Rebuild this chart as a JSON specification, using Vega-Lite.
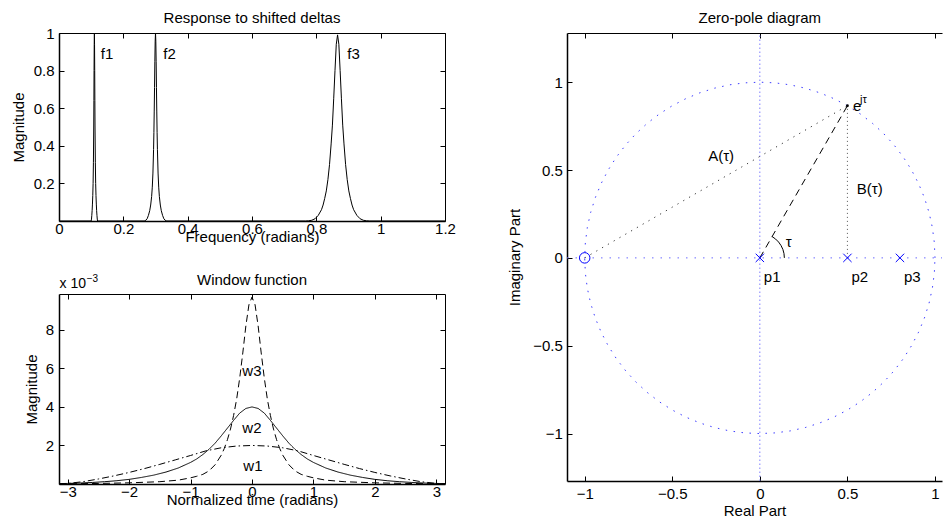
{
  "$schema": "https://vega.github.io/schema/vega-lite/v6.json",
  "padding": {"left": 11, "top": 10, "right": 0, "bottom": 0},
  "autosize": {"type": "pad"},
  "datasets": {
    "spectrum": [
      {"frequency": 0, "magnitude": 0},
      {"frequency": 0.1, "magnitude": 0}, {"frequency": 0.101, "magnitude": 0.01}, {"frequency": 0.102, "magnitude": 0.03},
      {"frequency": 0.103, "magnitude": 0.055}, {"frequency": 0.104, "magnitude": 0.09}, {"frequency": 0.105, "magnitude": 0.135},
      {"frequency": 0.106, "magnitude": 0.2}, {"frequency": 0.107, "magnitude": 0.31}, {"frequency": 0.108, "magnitude": 0.5},
      {"frequency": 0.1085, "magnitude": 0.64}, {"frequency": 0.109, "magnitude": 0.8}, {"frequency": 0.1095, "magnitude": 0.94},
      {"frequency": 0.11, "magnitude": 1}, {"frequency": 0.1105, "magnitude": 0.94}, {"frequency": 0.111, "magnitude": 0.8},
      {"frequency": 0.1115, "magnitude": 0.64}, {"frequency": 0.112, "magnitude": 0.5}, {"frequency": 0.113, "magnitude": 0.31},
      {"frequency": 0.114, "magnitude": 0.2}, {"frequency": 0.115, "magnitude": 0.135}, {"frequency": 0.116, "magnitude": 0.09},
      {"frequency": 0.117, "magnitude": 0.055}, {"frequency": 0.118, "magnitude": 0.03}, {"frequency": 0.119, "magnitude": 0.01},
      {"frequency": 0.12, "magnitude": 0},
      {"frequency": 0.265, "magnitude": 0}, {"frequency": 0.27, "magnitude": 0.004}, {"frequency": 0.274, "magnitude": 0.012},
      {"frequency": 0.278, "magnitude": 0.03}, {"frequency": 0.282, "magnitude": 0.055}, {"frequency": 0.285, "magnitude": 0.085},
      {"frequency": 0.288, "magnitude": 0.13}, {"frequency": 0.29, "magnitude": 0.18}, {"frequency": 0.292, "magnitude": 0.255},
      {"frequency": 0.294, "magnitude": 0.38}, {"frequency": 0.295, "magnitude": 0.47}, {"frequency": 0.296, "magnitude": 0.58},
      {"frequency": 0.297, "magnitude": 0.71}, {"frequency": 0.298, "magnitude": 0.847}, {"frequency": 0.299, "magnitude": 0.957},
      {"frequency": 0.3, "magnitude": 1}, {"frequency": 0.301, "magnitude": 0.957}, {"frequency": 0.302, "magnitude": 0.847},
      {"frequency": 0.303, "magnitude": 0.71}, {"frequency": 0.304, "magnitude": 0.58}, {"frequency": 0.305, "magnitude": 0.47},
      {"frequency": 0.306, "magnitude": 0.38}, {"frequency": 0.308, "magnitude": 0.255}, {"frequency": 0.31, "magnitude": 0.18},
      {"frequency": 0.312, "magnitude": 0.13}, {"frequency": 0.315, "magnitude": 0.085}, {"frequency": 0.318, "magnitude": 0.055},
      {"frequency": 0.322, "magnitude": 0.03}, {"frequency": 0.326, "magnitude": 0.012}, {"frequency": 0.33, "magnitude": 0.004},
      {"frequency": 0.335, "magnitude": 0},
      {"frequency": 0.766, "magnitude": 0}, {"frequency": 0.776, "magnitude": 0.001}, {"frequency": 0.786, "magnitude": 0.004},
      {"frequency": 0.796, "magnitude": 0.012}, {"frequency": 0.806, "magnitude": 0.03}, {"frequency": 0.816, "magnitude": 0.06},
      {"frequency": 0.821, "magnitude": 0.085}, {"frequency": 0.826, "magnitude": 0.12}, {"frequency": 0.831, "magnitude": 0.16},
      {"frequency": 0.836, "magnitude": 0.22}, {"frequency": 0.841, "magnitude": 0.3}, {"frequency": 0.846, "magnitude": 0.41},
      {"frequency": 0.85, "magnitude": 0.51}, {"frequency": 0.854, "magnitude": 0.65}, {"frequency": 0.858, "magnitude": 0.8},
      {"frequency": 0.862, "magnitude": 0.94}, {"frequency": 0.866, "magnitude": 0.99}, {"frequency": 0.87, "magnitude": 0.94},
      {"frequency": 0.874, "magnitude": 0.8}, {"frequency": 0.878, "magnitude": 0.65}, {"frequency": 0.882, "magnitude": 0.51},
      {"frequency": 0.886, "magnitude": 0.41}, {"frequency": 0.891, "magnitude": 0.3}, {"frequency": 0.896, "magnitude": 0.22},
      {"frequency": 0.901, "magnitude": 0.16}, {"frequency": 0.906, "magnitude": 0.12}, {"frequency": 0.911, "magnitude": 0.085},
      {"frequency": 0.916, "magnitude": 0.06}, {"frequency": 0.926, "magnitude": 0.03}, {"frequency": 0.936, "magnitude": 0.012},
      {"frequency": 0.946, "magnitude": 0.004}, {"frequency": 0.956, "magnitude": 0.001}, {"frequency": 0.966, "magnitude": 0},
      {"frequency": 1.2, "magnitude": 0}
    ],
    "spectrum_labels": [
      {"label": "f1", "frequency": 0.13, "magnitude": 0.889},
      {"label": "f2", "frequency": 0.324, "magnitude": 0.889},
      {"label": "f3", "frequency": 0.896, "magnitude": 0.889}
    ],
    "spectrum_title": [
      {"text": "Response to shifted deltas", "frequency": 0.6, "magnitude": 1.0532}
    ],
    "windows": [
      {"window": "w1", "t": -3.1416, "magnitude": 0}, {"window": "w1", "t": -3, "magnitude": 0.00003},
      {"window": "w1", "t": -2.75, "magnitude": 0.00012}, {"window": "w1", "t": -2.5, "magnitude": 0.00026},
      {"window": "w1", "t": -2.25, "magnitude": 0.00042}, {"window": "w1", "t": -2, "magnitude": 0.0006},
      {"window": "w1", "t": -1.75, "magnitude": 0.0008}, {"window": "w1", "t": -1.5, "magnitude": 0.00102},
      {"window": "w1", "t": -1.25, "magnitude": 0.00125}, {"window": "w1", "t": -1, "magnitude": 0.00148},
      {"window": "w1", "t": -0.75, "magnitude": 0.00172}, {"window": "w1", "t": -0.5, "magnitude": 0.00188},
      {"window": "w1", "t": -0.25, "magnitude": 0.00197}, {"window": "w1", "t": 0, "magnitude": 0.002},
      {"window": "w1", "t": 0.25, "magnitude": 0.00197}, {"window": "w1", "t": 0.5, "magnitude": 0.00188},
      {"window": "w1", "t": 0.75, "magnitude": 0.00172}, {"window": "w1", "t": 1, "magnitude": 0.00148},
      {"window": "w1", "t": 1.25, "magnitude": 0.00125}, {"window": "w1", "t": 1.5, "magnitude": 0.00102},
      {"window": "w1", "t": 1.75, "magnitude": 0.0008}, {"window": "w1", "t": 2, "magnitude": 0.0006},
      {"window": "w1", "t": 2.25, "magnitude": 0.00042}, {"window": "w1", "t": 2.5, "magnitude": 0.00026},
      {"window": "w1", "t": 2.75, "magnitude": 0.00012}, {"window": "w1", "t": 3, "magnitude": 0.00003},
      {"window": "w1", "t": 3.1416, "magnitude": 0},
      {"window": "w2", "t": -3.1416, "magnitude": 0.00002}, {"window": "w2", "t": -3, "magnitude": 0.00003},
      {"window": "w2", "t": -2.8, "magnitude": 0.00005}, {"window": "w2", "t": -2.6, "magnitude": 0.00008},
      {"window": "w2", "t": -2.4, "magnitude": 0.00012}, {"window": "w2", "t": -2.2, "magnitude": 0.00017},
      {"window": "w2", "t": -2, "magnitude": 0.00024}, {"window": "w2", "t": -1.8, "magnitude": 0.00034},
      {"window": "w2", "t": -1.6, "magnitude": 0.00046}, {"window": "w2", "t": -1.4, "magnitude": 0.00062},
      {"window": "w2", "t": -1.2, "magnitude": 0.00083}, {"window": "w2", "t": -1, "magnitude": 0.00112},
      {"window": "w2", "t": -0.9, "magnitude": 0.0013}, {"window": "w2", "t": -0.8, "magnitude": 0.00153},
      {"window": "w2", "t": -0.7, "magnitude": 0.0018}, {"window": "w2", "t": -0.6, "magnitude": 0.00212},
      {"window": "w2", "t": -0.5, "magnitude": 0.0025}, {"window": "w2", "t": -0.4, "magnitude": 0.0029},
      {"window": "w2", "t": -0.3, "magnitude": 0.0033}, {"window": "w2", "t": -0.2, "magnitude": 0.00368},
      {"window": "w2", "t": -0.1, "magnitude": 0.00392}, {"window": "w2", "t": 0, "magnitude": 0.004},
      {"window": "w2", "t": 0.1, "magnitude": 0.00392}, {"window": "w2", "t": 0.2, "magnitude": 0.00368},
      {"window": "w2", "t": 0.3, "magnitude": 0.0033}, {"window": "w2", "t": 0.4, "magnitude": 0.0029},
      {"window": "w2", "t": 0.5, "magnitude": 0.0025}, {"window": "w2", "t": 0.6, "magnitude": 0.00212},
      {"window": "w2", "t": 0.7, "magnitude": 0.0018}, {"window": "w2", "t": 0.8, "magnitude": 0.00153},
      {"window": "w2", "t": 0.9, "magnitude": 0.0013}, {"window": "w2", "t": 1, "magnitude": 0.00112},
      {"window": "w2", "t": 1.2, "magnitude": 0.00083}, {"window": "w2", "t": 1.4, "magnitude": 0.00062},
      {"window": "w2", "t": 1.6, "magnitude": 0.00046}, {"window": "w2", "t": 1.8, "magnitude": 0.00034},
      {"window": "w2", "t": 2, "magnitude": 0.00024}, {"window": "w2", "t": 2.2, "magnitude": 0.00017},
      {"window": "w2", "t": 2.4, "magnitude": 0.00012}, {"window": "w2", "t": 2.6, "magnitude": 0.00008},
      {"window": "w2", "t": 2.8, "magnitude": 0.00005}, {"window": "w2", "t": 3, "magnitude": 0.00003},
      {"window": "w2", "t": 3.1416, "magnitude": 0.00002},
      {"window": "w3", "t": -3.1416, "magnitude": 0.00001}, {"window": "w3", "t": -3, "magnitude": 0.00001},
      {"window": "w3", "t": -2.5, "magnitude": 0.00003}, {"window": "w3", "t": -2, "magnitude": 0.00006},
      {"window": "w3", "t": -1.5, "magnitude": 0.00012}, {"window": "w3", "t": -1.2, "magnitude": 0.0002},
      {"window": "w3", "t": -1, "magnitude": 0.00032}, {"window": "w3", "t": -0.9, "magnitude": 0.0004},
      {"window": "w3", "t": -0.8, "magnitude": 0.0005}, {"window": "w3", "t": -0.7, "magnitude": 0.00068},
      {"window": "w3", "t": -0.6, "magnitude": 0.001}, {"window": "w3", "t": -0.5, "magnitude": 0.0015},
      {"window": "w3", "t": -0.45, "magnitude": 0.00185}, {"window": "w3", "t": -0.4, "magnitude": 0.0023},
      {"window": "w3", "t": -0.35, "magnitude": 0.00285}, {"window": "w3", "t": -0.3, "magnitude": 0.00355},
      {"window": "w3", "t": -0.25, "magnitude": 0.0044}, {"window": "w3", "t": -0.2, "magnitude": 0.0055},
      {"window": "w3", "t": -0.15, "magnitude": 0.0068}, {"window": "w3", "t": -0.1, "magnitude": 0.0082},
      {"window": "w3", "t": -0.05, "magnitude": 0.0093}, {"window": "w3", "t": 0, "magnitude": 0.0097},
      {"window": "w3", "t": 0.05, "magnitude": 0.0093}, {"window": "w3", "t": 0.1, "magnitude": 0.0082},
      {"window": "w3", "t": 0.15, "magnitude": 0.0068}, {"window": "w3", "t": 0.2, "magnitude": 0.0055},
      {"window": "w3", "t": 0.25, "magnitude": 0.0044}, {"window": "w3", "t": 0.3, "magnitude": 0.00355},
      {"window": "w3", "t": 0.35, "magnitude": 0.00285}, {"window": "w3", "t": 0.4, "magnitude": 0.0023},
      {"window": "w3", "t": 0.45, "magnitude": 0.00185}, {"window": "w3", "t": 0.5, "magnitude": 0.0015},
      {"window": "w3", "t": 0.6, "magnitude": 0.001}, {"window": "w3", "t": 0.7, "magnitude": 0.00068},
      {"window": "w3", "t": 0.8, "magnitude": 0.0005}, {"window": "w3", "t": 0.9, "magnitude": 0.0004},
      {"window": "w3", "t": 1, "magnitude": 0.00032}, {"window": "w3", "t": 1.2, "magnitude": 0.0002},
      {"window": "w3", "t": 1.5, "magnitude": 0.00012}, {"window": "w3", "t": 2, "magnitude": 0.00006},
      {"window": "w3", "t": 2.5, "magnitude": 0.00003}, {"window": "w3", "t": 3, "magnitude": 0.00001},
      {"window": "w3", "t": 3.1416, "magnitude": 0.00001}
    ],
    "window_labels": [
      {"label": "w3", "t": -0.157, "magnitude": 0.00589},
      {"label": "w2", "t": -0.157, "magnitude": 0.0029},
      {"label": "w1", "t": -0.141, "magnitude": 0.00092}
    ],
    "window_title": [
      {"text": "Window function", "t": 0, "magnitude": 0.010327}
    ],
    "exponent": [
      {"part": "base", "text": "x 10", "t": -3.133, "magnitude": 0.01036},
      {"part": "power", "text": "−3", "t": -2.691, "magnitude": 0.01065}
    ],
    "unit_circle": [
      {"k": 0, "re": 1, "im": 0}, {"k": 1, "re": 0.9962, "im": 0.0872}, {"k": 2, "re": 0.9848, "im": 0.1736},
      {"k": 3, "re": 0.9659, "im": 0.2588}, {"k": 4, "re": 0.9397, "im": 0.342}, {"k": 5, "re": 0.9063, "im": 0.4226},
      {"k": 6, "re": 0.866, "im": 0.5}, {"k": 7, "re": 0.8192, "im": 0.5736}, {"k": 8, "re": 0.766, "im": 0.6428},
      {"k": 9, "re": 0.7071, "im": 0.7071}, {"k": 10, "re": 0.6428, "im": 0.766}, {"k": 11, "re": 0.5736, "im": 0.8192},
      {"k": 12, "re": 0.5, "im": 0.866}, {"k": 13, "re": 0.4226, "im": 0.9063}, {"k": 14, "re": 0.342, "im": 0.9397},
      {"k": 15, "re": 0.2588, "im": 0.9659}, {"k": 16, "re": 0.1736, "im": 0.9848}, {"k": 17, "re": 0.0872, "im": 0.9962},
      {"k": 18, "re": 0, "im": 1}, {"k": 19, "re": -0.0872, "im": 0.9962}, {"k": 20, "re": -0.1736, "im": 0.9848},
      {"k": 21, "re": -0.2588, "im": 0.9659}, {"k": 22, "re": -0.342, "im": 0.9397}, {"k": 23, "re": -0.4226, "im": 0.9063},
      {"k": 24, "re": -0.5, "im": 0.866}, {"k": 25, "re": -0.5736, "im": 0.8192}, {"k": 26, "re": -0.6428, "im": 0.766},
      {"k": 27, "re": -0.7071, "im": 0.7071}, {"k": 28, "re": -0.766, "im": 0.6428}, {"k": 29, "re": -0.8192, "im": 0.5736},
      {"k": 30, "re": -0.866, "im": 0.5}, {"k": 31, "re": -0.9063, "im": 0.4226}, {"k": 32, "re": -0.9397, "im": 0.342},
      {"k": 33, "re": -0.9659, "im": 0.2588}, {"k": 34, "re": -0.9848, "im": 0.1736}, {"k": 35, "re": -0.9962, "im": 0.0872},
      {"k": 36, "re": -1, "im": 0}, {"k": 37, "re": -0.9962, "im": -0.0872}, {"k": 38, "re": -0.9848, "im": -0.1736},
      {"k": 39, "re": -0.9659, "im": -0.2588}, {"k": 40, "re": -0.9397, "im": -0.342}, {"k": 41, "re": -0.9063, "im": -0.4226},
      {"k": 42, "re": -0.866, "im": -0.5}, {"k": 43, "re": -0.8192, "im": -0.5736}, {"k": 44, "re": -0.766, "im": -0.6428},
      {"k": 45, "re": -0.7071, "im": -0.7071}, {"k": 46, "re": -0.6428, "im": -0.766}, {"k": 47, "re": -0.5736, "im": -0.8192},
      {"k": 48, "re": -0.5, "im": -0.866}, {"k": 49, "re": -0.4226, "im": -0.9063}, {"k": 50, "re": -0.342, "im": -0.9397},
      {"k": 51, "re": -0.2588, "im": -0.9659}, {"k": 52, "re": -0.1736, "im": -0.9848}, {"k": 53, "re": -0.0872, "im": -0.9962},
      {"k": 54, "re": 0, "im": -1}, {"k": 55, "re": 0.0872, "im": -0.9962}, {"k": 56, "re": 0.1736, "im": -0.9848},
      {"k": 57, "re": 0.2588, "im": -0.9659}, {"k": 58, "re": 0.342, "im": -0.9397}, {"k": 59, "re": 0.4226, "im": -0.9063},
      {"k": 60, "re": 0.5, "im": -0.866}, {"k": 61, "re": 0.5736, "im": -0.8192}, {"k": 62, "re": 0.6428, "im": -0.766},
      {"k": 63, "re": 0.7071, "im": -0.7071}, {"k": 64, "re": 0.766, "im": -0.6428}, {"k": 65, "re": 0.8192, "im": -0.5736},
      {"k": 66, "re": 0.866, "im": -0.5}, {"k": 67, "re": 0.9063, "im": -0.4226}, {"k": 68, "re": 0.9397, "im": -0.342},
      {"k": 69, "re": 0.9659, "im": -0.2588}, {"k": 70, "re": 0.9848, "im": -0.1736}, {"k": 71, "re": 0.9962, "im": -0.0872},
      {"k": 72, "re": 1, "im": 0}
    ],
    "tau_arc": [
      {"k": 0, "re": 0.14, "im": 0}, {"k": 1, "re": 0.1379, "im": 0.0243}, {"k": 2, "re": 0.1316, "im": 0.0479},
      {"k": 3, "re": 0.1212, "im": 0.07}, {"k": 4, "re": 0.1072, "im": 0.09}, {"k": 5, "re": 0.09, "im": 0.1072},
      {"k": 6, "re": 0.07, "im": 0.1212}
    ],
    "segments": [
      {"segment": "imag_axis", "re": 0, "im": -1.27, "re2": 0, "im2": 1.28},
      {"segment": "real_axis", "re": -1.101, "im": 0, "re2": 1.04, "im2": 0},
      {"segment": "A", "re": -1, "im": 0, "re2": 0.5, "im2": 0.866},
      {"segment": "B", "re": 0.5, "im": 0, "re2": 0.5, "im2": 0.866},
      {"segment": "radius", "re": 0, "im": 0, "re2": 0.5, "im2": 0.866}
    ],
    "zeros": [{"re": -1, "im": 0}],
    "poles": [
      {"re": 0, "im": 0, "label": "p1"},
      {"re": 0.5, "im": 0, "label": "p2"},
      {"re": 0.8, "im": 0, "label": "p3"}
    ],
    "unit_point": [{"re": 0.5, "im": 0.866}],
    "zp_labels": [
      {"label": "A(τ)", "re": -0.295, "im": 0.58},
      {"label": "B(τ)", "re": 0.553, "im": 0.39},
      {"label": "τ", "re": 0.148, "im": 0.093},
      {"label": "e", "re": 0.532, "im": 0.866}
    ],
    "zp_superscripts": [
      {"label": "jτ", "re": 0.572, "im": 0.898}
    ],
    "zp_title": [
      {"text": "Zero-pole diagram", "re": 0, "im": 1.3369}
    ]
  },
  "spacing": 51,
  "hconcat": [
    {
      "vconcat": [
        {
          "width": 386,
          "height": 188,
          "encoding": {
            "x": {"field": "frequency", "type": "quantitative", "scale": {"domain": [0, 1.2]}, "axis": null},
            "y": {"field": "magnitude", "type": "quantitative", "scale": {"domain": [0, 1]}, "axis": null}
          },
          "layer": [
            {
              "data": {"name": "spectrum"},
              "mark": {"type": "line", "color": "#000", "strokeWidth": 1, "clip": true},
              "encoding": {
                "x": {"field": "frequency", "type": "quantitative", "scale": {"domain": [0, 1.2]},
                  "axis": {"orient": "bottom", "values": [0, 0.2, 0.4, 0.6, 0.8, 1, 1.2], "format": "~g",
                    "title": "Frequency (radians)", "titleY": 20.5, "labelPadding": 5.5}},
                "y": {"field": "magnitude", "type": "quantitative", "scale": {"domain": [0, 1]},
                  "axis": {"orient": "left", "values": [0.2, 0.4, 0.6, 0.8, 1], "format": "~g",
                    "title": "Magnitude", "titleX": -36, "labelPadding": 10}}
              }
            },
            {
              "data": {"name": "spectrum_labels"},
              "mark": {"type": "text", "align": "left", "baseline": "middle"},
              "encoding": {
                "x": {"field": "frequency", "type": "quantitative", "scale": {"domain": [0, 1.2]},
                  "axis": {"orient": "top", "values": [0, 0.2, 0.4, 0.6, 0.8, 1, 1.2], "labels": false, "title": null}},
                "y": {"field": "magnitude", "type": "quantitative", "scale": {"domain": [0, 1]},
                  "axis": {"orient": "right", "values": [0.2, 0.4, 0.6, 0.8, 1], "labels": false, "title": null}},
                "text": {"field": "label"}
              }
            },
            {
              "data": {"name": "spectrum_title"},
              "mark": {"type": "text", "align": "center", "baseline": "alphabetic"},
              "encoding": {"text": {"field": "text"}}
            }
          ],
          "resolve": {"axis": {"x": "independent", "y": "independent"}}
        },
        {
          "width": 386,
          "height": 190,
          "encoding": {
            "x": {"field": "t", "type": "quantitative", "scale": {"domain": [-3.1416, 3.1416]}, "axis": null},
            "y": {"field": "magnitude", "type": "quantitative", "scale": {"domain": [0, 0.00986]}, "axis": null}
          },
          "layer": [
            {
              "data": {"name": "windows"},
              "mark": {"type": "line", "color": "#000", "strokeWidth": 1},
              "encoding": {
                "x": {"field": "t", "type": "quantitative", "scale": {"domain": [-3.1416, 3.1416]},
                  "axis": {"orient": "bottom", "values": [-3, -2, -1, 0, 1, 2, 3], "format": "~g",
                    "title": "Normalized time (radians)", "titleY": 20, "labelPadding": 5}},
                "y": {"field": "magnitude", "type": "quantitative", "scale": {"domain": [0, 0.00986]},
                  "axis": {"orient": "left", "values": [0.002, 0.004, 0.006, 0.008],
                    "labelExpr": "format(datum.value * 1000, '~g')",
                    "title": "Magnitude", "titleX": -22.5, "labelPadding": 10.5}},
                "strokeDash": {"field": "window", "type": "nominal",
                  "scale": {"domain": ["w1", "w2", "w3"], "range": [[7, 3, 1.5, 3], [1, 0], [7, 4]]},
                  "legend": null}
              }
            },
            {
              "data": {"name": "window_labels"},
              "mark": {"type": "text", "align": "left", "baseline": "middle"},
              "encoding": {
                "x": {"field": "t", "type": "quantitative", "scale": {"domain": [-3.1416, 3.1416]},
                  "axis": {"orient": "top", "values": [-3, -2, -1, 0, 1, 2, 3], "labels": false, "title": null}},
                "y": {"field": "magnitude", "type": "quantitative", "scale": {"domain": [0, 0.00986]},
                  "axis": {"orient": "right", "values": [0.002, 0.004, 0.006, 0.008], "labels": false, "title": null}},
                "text": {"field": "label"}
              }
            },
            {
              "data": {"name": "window_title"},
              "mark": {"type": "text", "align": "center", "baseline": "alphabetic"},
              "encoding": {"text": {"field": "text"}}
            },
            {
              "data": {"name": "exponent"},
              "transform": [{"filter": "datum.part === 'base'"}],
              "mark": {"type": "text", "align": "left", "baseline": "middle", "fontSize": 14},
              "encoding": {"text": {"field": "text"}}
            },
            {
              "data": {"name": "exponent"},
              "transform": [{"filter": "datum.part === 'power'"}],
              "mark": {"type": "text", "align": "left", "baseline": "middle", "fontSize": 10},
              "encoding": {"text": {"field": "text"}}
            }
          ],
          "resolve": {"axis": {"x": "independent", "y": "independent"}}
        }
      ],
      "spacing": 73,
      "bounds": "flush"
    },
    {
      "width": 375,
      "height": 448,
      "encoding": {
        "x": {"field": "re", "type": "quantitative", "scale": {"domain": [-1.101, 1.04]}, "axis": null},
        "y": {"field": "im", "type": "quantitative", "scale": {"domain": [-1.27, 1.28]}, "axis": null}
      },
      "layer": [
        {
          "data": {"name": "unit_circle"},
          "mark": {"type": "line", "color": "#3b3bff", "strokeWidth": 1, "strokeDash": [1.5, 6.5]},
          "encoding": {
            "x": {"field": "re", "type": "quantitative", "scale": {"domain": [-1.101, 1.04]},
              "axis": {"orient": "bottom", "values": [-1, -0.5, 0, 0.5, 1], "format": "~g",
                "title": "Real Part", "titleY": 34, "labelPadding": 10}},
            "y": {"field": "im", "type": "quantitative", "scale": {"domain": [-1.27, 1.28]},
              "axis": {"orient": "left", "values": [-1, -0.5, 0, 0.5, 1], "format": "~g",
                "title": "Imaginary Part", "titleX": -47.5, "labelPadding": 9.7}},
            "order": {"field": "k", "type": "quantitative"}
          }
        },
        {
          "data": {"name": "segments"},
          "transform": [{"filter": "datum.segment === 'imag_axis'"}],
          "mark": {"type": "rule", "color": "#8080ff", "strokeWidth": 1, "strokeDash": [1.5, 2.5]},
          "encoding": {
            "x": {"field": "re", "type": "quantitative", "scale": {"domain": [-1.101, 1.04]},
              "axis": {"orient": "top", "values": [-1, -0.5, 0, 0.5, 1], "labels": false, "title": null}},
            "x2": {"field": "re2"},
            "y2": {"field": "im2"}
          }
        },
        {
          "data": {"name": "segments"},
          "transform": [{"filter": "datum.segment === 'real_axis'"}],
          "mark": {"type": "rule", "color": "#6a6aff", "strokeWidth": 1, "strokeDash": [1.5, 7]},
          "encoding": {"x2": {"field": "re2"}, "y2": {"field": "im2"}}
        },
        {
          "data": {"name": "segments"},
          "transform": [{"filter": "datum.segment === 'A'"}],
          "mark": {"type": "rule", "color": "#333", "strokeWidth": 1, "strokeDash": [1.2, 5.5]},
          "encoding": {"x2": {"field": "re2"}, "y2": {"field": "im2"}}
        },
        {
          "data": {"name": "segments"},
          "transform": [{"filter": "datum.segment === 'B'"}],
          "mark": {"type": "rule", "color": "#555", "strokeWidth": 1, "strokeDash": [1, 3]},
          "encoding": {"x2": {"field": "re2"}, "y2": {"field": "im2"}}
        },
        {
          "data": {"name": "segments"},
          "transform": [{"filter": "datum.segment === 'radius'"}],
          "mark": {"type": "rule", "color": "#000", "strokeWidth": 1, "strokeDash": [7, 5]},
          "encoding": {"x2": {"field": "re2"}, "y2": {"field": "im2"}}
        },
        {
          "data": {"name": "tau_arc"},
          "mark": {"type": "line", "color": "#000", "strokeWidth": 1},
          "encoding": {"order": {"field": "k", "type": "quantitative"}}
        },
        {
          "data": {"name": "zeros"},
          "mark": {"type": "point", "shape": "circle", "size": 110, "filled": false, "color": "#0000ff", "strokeWidth": 1, "opacity": 1}
        },
        {
          "data": {"name": "poles"},
          "mark": {"type": "point", "shape": "M-1,-1L1,1M-1,1L1,-1", "size": 70, "filled": false, "color": "#0000ff", "strokeWidth": 1, "opacity": 1}
        },
        {
          "data": {"name": "poles"},
          "mark": {"type": "text", "align": "left", "baseline": "middle", "dx": 4, "dy": 19},
          "encoding": {"text": {"field": "label"}}
        },
        {
          "data": {"name": "unit_point"},
          "mark": {"type": "point", "shape": "circle", "size": 8, "filled": true, "color": "#000", "opacity": 1}
        },
        {
          "data": {"name": "zp_labels"},
          "mark": {"type": "text", "align": "left", "baseline": "middle"},
          "encoding": {"text": {"field": "label"}}
        },
        {
          "data": {"name": "zp_superscripts"},
          "mark": {"type": "text", "align": "left", "baseline": "middle", "fontSize": 11},
          "encoding": {"text": {"field": "label"}}
        },
        {
          "data": {"name": "zp_title"},
          "mark": {"type": "text", "align": "center", "baseline": "alphabetic"},
          "encoding": {"text": {"field": "text"}}
        }
      ],
      "resolve": {"axis": {"x": "independent", "y": "independent"}}
    }
  ],
  "config": {
    "view": {"stroke": null},
    "font": "Liberation Sans",
    "axis": {
      "grid": false,
      "labelFont": "Liberation Sans", "labelFontSize": 15, "labelColor": "#000",
      "labelFlush": false, "labelOverlap": false, "labelBound": false,
      "titleFont": "Liberation Sans", "titleFontSize": 15, "titleFontWeight": "normal", "titleColor": "#000",
      "titleBaseline": "alphabetic",
      "tickColor": "#000", "tickSize": -5, "tickWidth": 1,
      "domainColor": "#000", "domainWidth": 1
    },
    "axisBottom": {"domainWidth": 1.5},
    "axisLeft": {"domainWidth": 1.5},
    "text": {"font": "Liberation Sans", "fontSize": 15, "color": "#000"}
  }
}
